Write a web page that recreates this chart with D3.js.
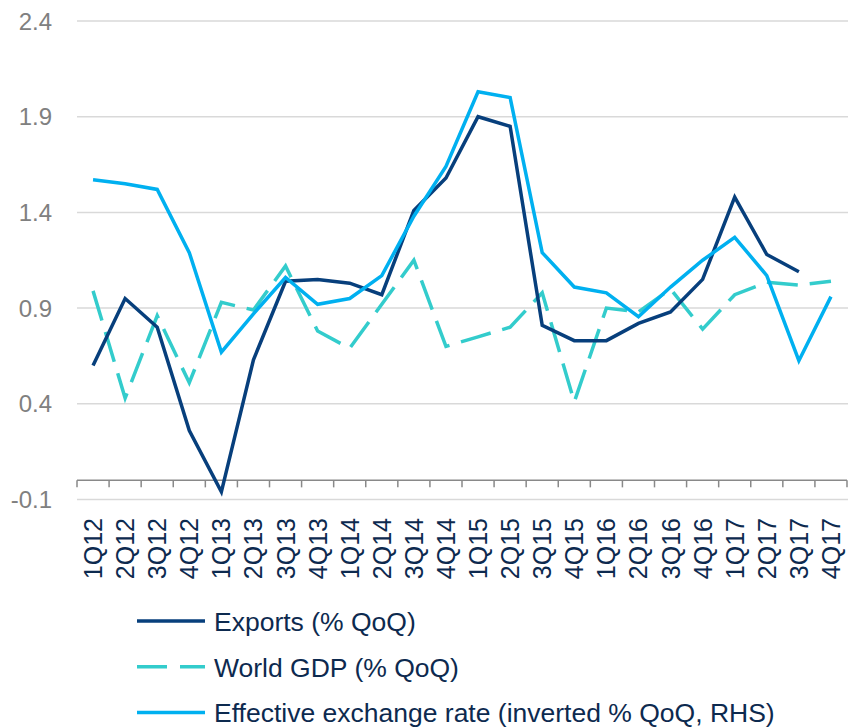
<!DOCTYPE html>
<html>
<head>
<meta charset="utf-8">
<script src="https://cdn.jsdelivr.net/npm/d3@7"></script>
<style>
  html, body { margin: 0; padding: 0; background: #fff; }
  svg { display: block; font-family: "Liberation Sans", Arial, sans-serif; }
</style>
</head>
<body>
<div id="chart"></div>
<script>
// quarters on the x axis
const quarters = ["1Q12","2Q12","3Q12","4Q12","1Q13","2Q13","3Q13","4Q13","1Q14","2Q14","3Q14","4Q14",
                  "1Q15","2Q15","3Q15","4Q15","1Q16","2Q16","3Q16","4Q16","1Q17","2Q17","3Q17","4Q17"];

// series values (null = no value)
const exportsQoQ = [0.60, 0.95, 0.80, 0.26, -0.06, 0.63, 1.04, 1.05, 1.03, 0.97, 1.41, 1.58,
                    1.90, 1.85, 0.81, 0.73, 0.73, 0.82, 0.88, 1.05, 1.48, 1.18, 1.09, null];
const worldGdpQoQ = [0.99, 0.43, 0.86, 0.51, 0.93, 0.89, 1.12, 0.78, 0.69, 0.92, 1.15, 0.70,
                     0.75, 0.80, 0.98, 0.41, 0.90, 0.88, 1.00, 0.79, 0.97, 1.035, 1.02, 1.04];
const exchangeRate = [1.57, 1.55, 1.52, 1.19, 0.67, 0.87, 1.06, 0.92, 0.95, 1.07, 1.38, 1.64,
                      2.03, 2.00, 1.19, 1.01, 0.98, 0.855, 1.01, 1.15, 1.27, 1.07, 0.625, 0.96];

const yTicks = [-0.1, 0.4, 0.9, 1.4, 1.9, 2.4];

const series = [
  { name: "World GDP (% QoQ)", values: worldGdpQoQ, color: "#33cccc", dash: "31,12" },
  { name: "Exports (% QoQ)", values: exportsQoQ, color: "#073f7c", dash: null },
  { name: "Effective exchange rate (inverted % QoQ, RHS)", values: exchangeRate, color: "#00b0f0", dash: null }
];
const legendOrder = [series[1], series[0], series[2]];

const width = 848, height = 727;
const svg = d3.select("#chart").append("svg")
  .attr("width", width)
  .attr("height", height);

const x = d3.scaleBand().domain(quarters).range([77, 847]);
const y = d3.scaleLinear().domain([-0.1, 2.4]).range([499.5, 21]);
const cx = d => x(d) + x.bandwidth() / 2;

// horizontal gridlines
svg.append("g").selectAll("line").data(yTicks).join("line")
  .attr("x1", 77).attr("x2", 848)
  .attr("y1", d => y(d)).attr("y2", d => y(d))
  .attr("stroke", "#d9d9d9").attr("stroke-width", 1.5);

// y labels (plain hyphen for the minus sign, like the original)
svg.append("g").selectAll("text").data(yTicks).join("text")
  .attr("x", 52).attr("y", d => y(d))
  .attr("dy", "0.36em")
  .attr("text-anchor", "end")
  .attr("font-size", 24)
  .attr("fill", "#808080")
  .text(d => d3.format(".1f")(d).replace("\u2212", "-"));

// x axis line at zero with ticks on the band edges
const y0 = y(0);
svg.append("line")
  .attr("x1", 77).attr("x2", 847)
  .attr("y1", y0).attr("y2", y0)
  .attr("stroke", "#898989").attr("stroke-width", 1.5);
const edges = quarters.map(q => x(q)).concat([x.range()[1]]);
svg.append("g").selectAll("line").data(edges).join("line")
  .attr("x1", d => d).attr("x2", d => d)
  .attr("y1", y0).attr("y2", y0 + 7)
  .attr("stroke", "#898989").attr("stroke-width", 1.5);

// rotated category labels
svg.append("g").selectAll("text").data(quarters).join("text")
  .attr("transform", d => `translate(${cx(d)},518) rotate(-90)`)
  .attr("dy", "0.36em")
  .attr("text-anchor", "end")
  .attr("font-size", 25)
  .attr("fill", "#0d2a4f")
  .text(d => d);

// lines
const line = d3.line()
  .defined(d => d.v !== null)
  .x(d => cx(d.q))
  .y(d => y(d.v));

series.forEach(s => {
  svg.append("path")
    .datum(quarters.map((q, i) => ({ q: q, v: s.values[i] })))
    .attr("fill", "none")
    .attr("stroke", s.color)
    .attr("stroke-width", 3.5)
    .attr("stroke-linejoin", "miter")
    .attr("stroke-dasharray", s.dash)
    .attr("d", line);
});

// legend
const legend = svg.append("g").selectAll("g").data(legendOrder).join("g")
  .attr("transform", (d, i) => `translate(0, ${621 + i * 45.7})`);
legend.append("line")
  .attr("x1", 137).attr("x2", 205)
  .attr("stroke", d => d.color)
  .attr("stroke-width", 3.5)
  .attr("stroke-dasharray", d => d.dash ? "30,13" : null);
legend.append("text")
  .attr("x", 214).attr("y", 10)
  .attr("font-size", 26.5)
  .attr("fill", "#0d2a4f")
  .text(d => d.name);
</script>
</body>
</html>
